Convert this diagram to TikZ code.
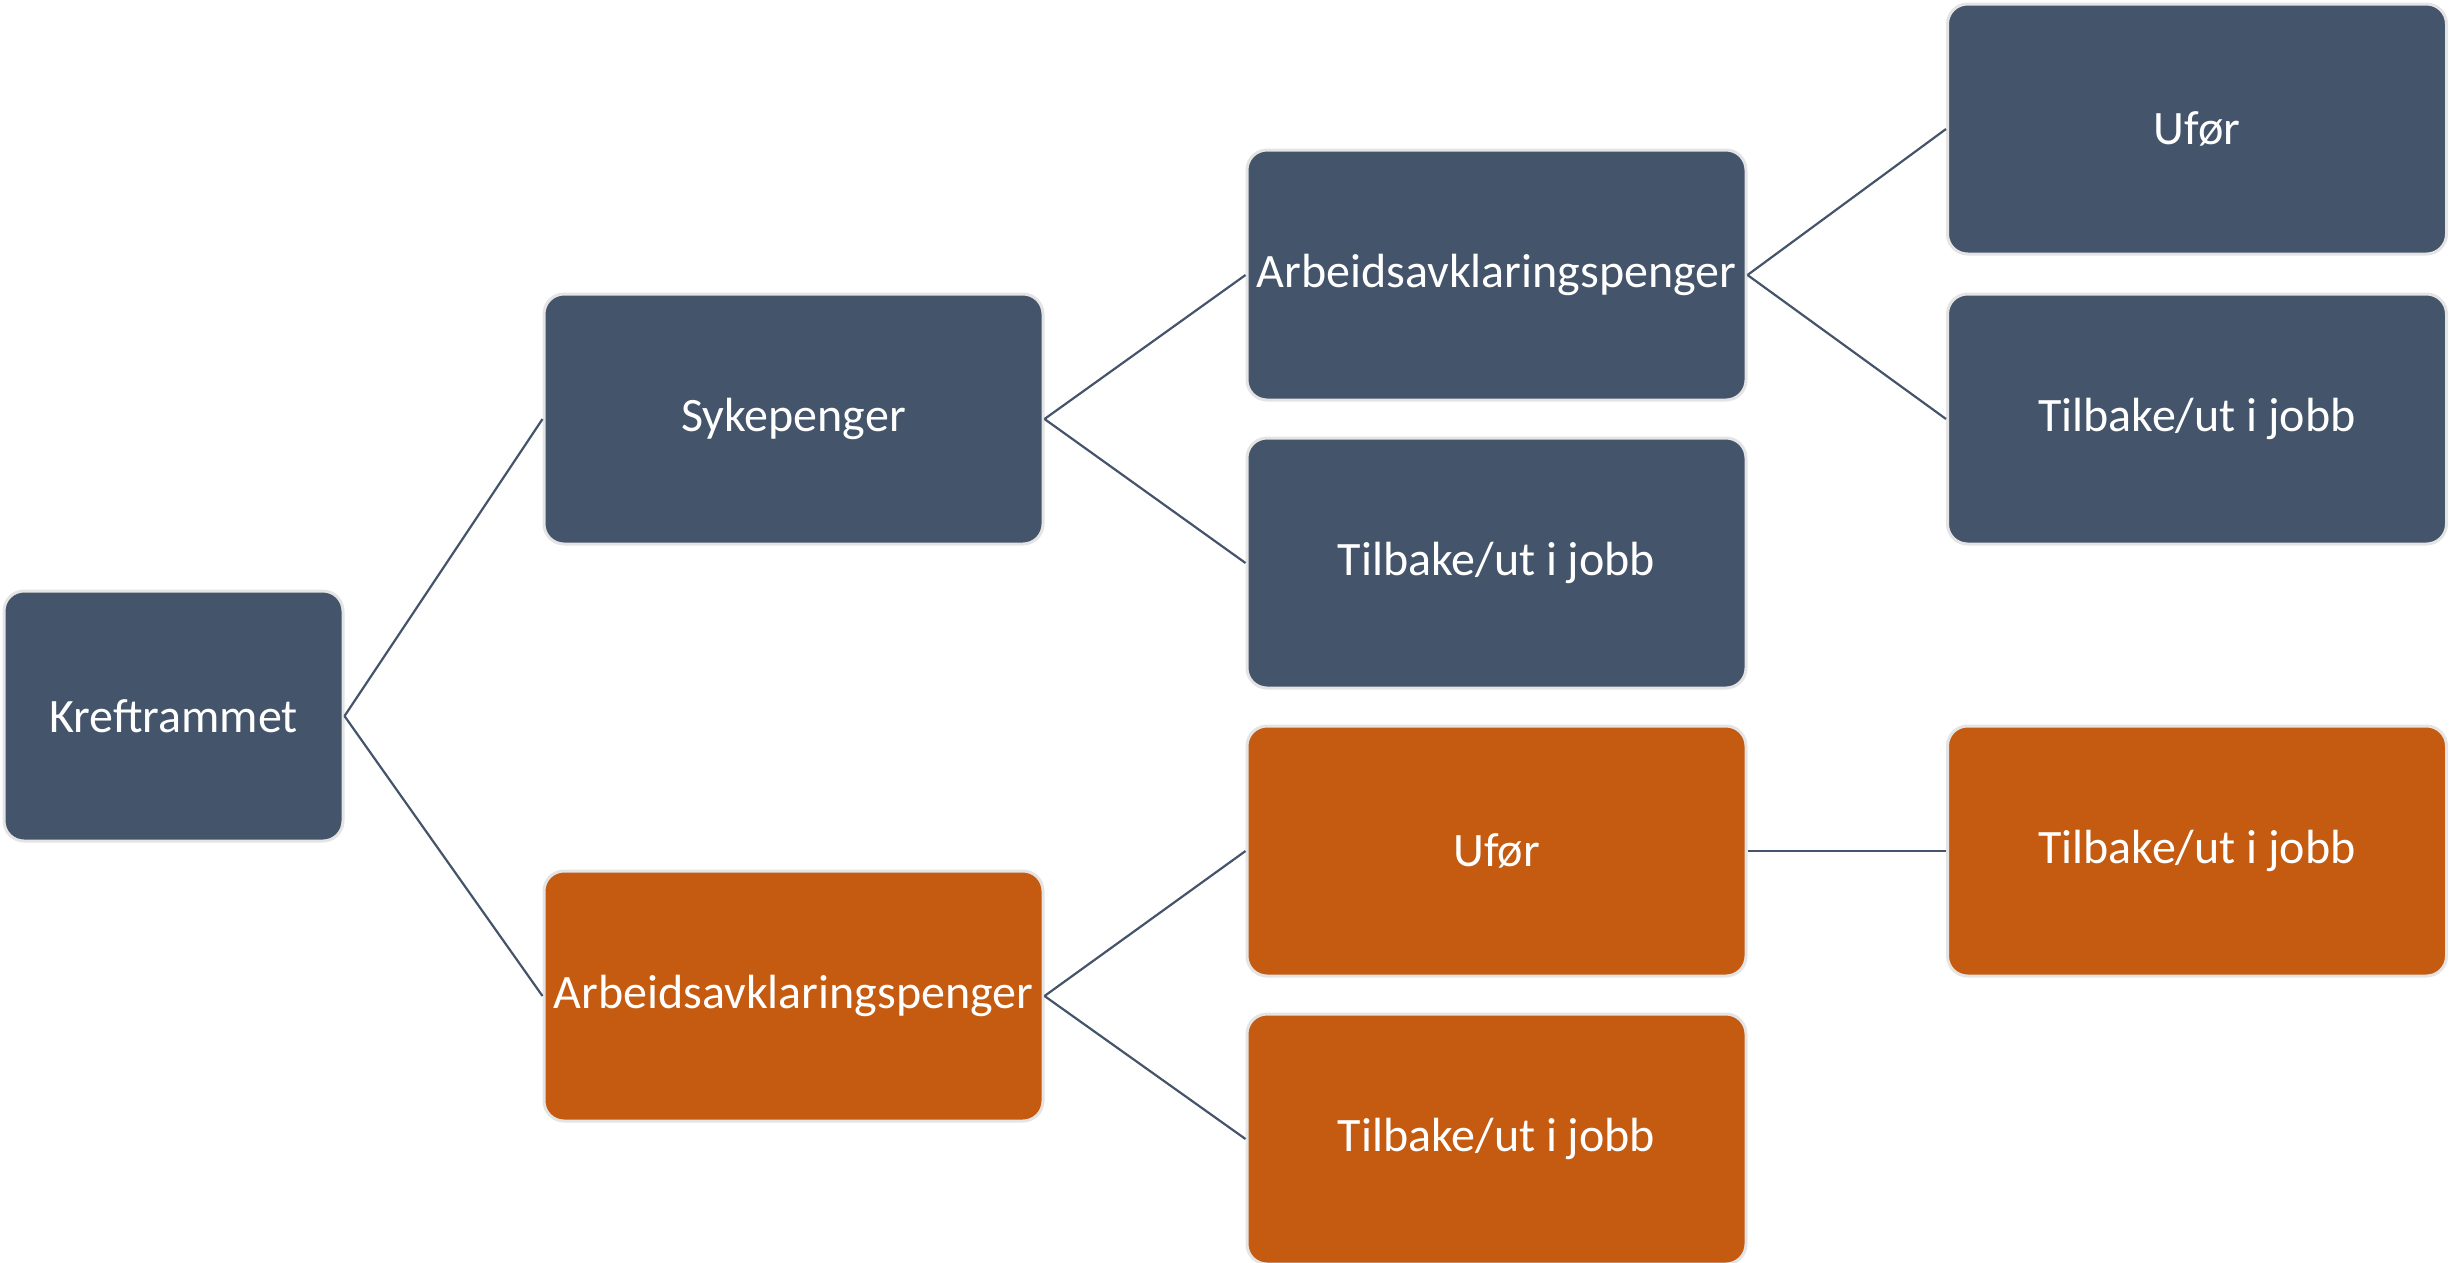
\documentclass[tikz,border=0pt]{standalone}
\usepackage{fontspec}
\setmainfont{Carlito}
\definecolor{navy}{HTML}{44546A}
\definecolor{rust}{HTML}{C55A11}
\definecolor{rim}{HTML}{E4E4E4}
\begin{document}
\begin{tikzpicture}[x=1pt,y=-1pt,
  box/.style={draw=rim,line width=3pt,rounded corners=20pt,minimum width=499pt,minimum height=250pt,
    text=white,font=\fontsize{48}{58}\selectfont,inner sep=0pt,anchor=center},
  bluebox/.style={box,fill=navy},
  orangebox/.style={box,fill=rust},
  link/.style={draw=navy,line width=2.2pt}]
\useasboundingbox (0,0) rectangle (2453,1262);
\node[bluebox,minimum width=339pt] (k) at (173.5,716) {Kreftrammet};
\node[bluebox] (s) at (793.5,419) {Sykepenger};
\node[orangebox] (ao) at (793.5,996) {Arbeidsavklaringspenger};
\node[bluebox] (ab) at (1496.5,275) {Arbeidsavklaringspenger};
\node[bluebox] (tb3) at (1496.5,563) {Tilbake/ut i jobb};
\node[orangebox] (uo) at (1496.5,851) {Ufør};
\node[orangebox] (to3) at (1496.5,1139) {Tilbake/ut i jobb};
\node[bluebox] (ub) at (2197,129) {Ufør};
\node[bluebox] (tb4) at (2197,419) {Tilbake/ut i jobb};
\node[orangebox] (to4) at (2197,851) {Tilbake/ut i jobb};
\draw[link] (k.east) -- (s.west);
\draw[link] (k.east) -- (ao.west);
\draw[link] (s.east) -- (ab.west);
\draw[link] (s.east) -- (tb3.west);
\draw[link] (ab.east) -- (ub.west);
\draw[link] (ab.east) -- (tb4.west);
\draw[link] (ao.east) -- (uo.west);
\draw[link] (ao.east) -- (to3.west);
\draw[link] (uo.east) -- (to4.west);
\end{tikzpicture}
\end{document}
